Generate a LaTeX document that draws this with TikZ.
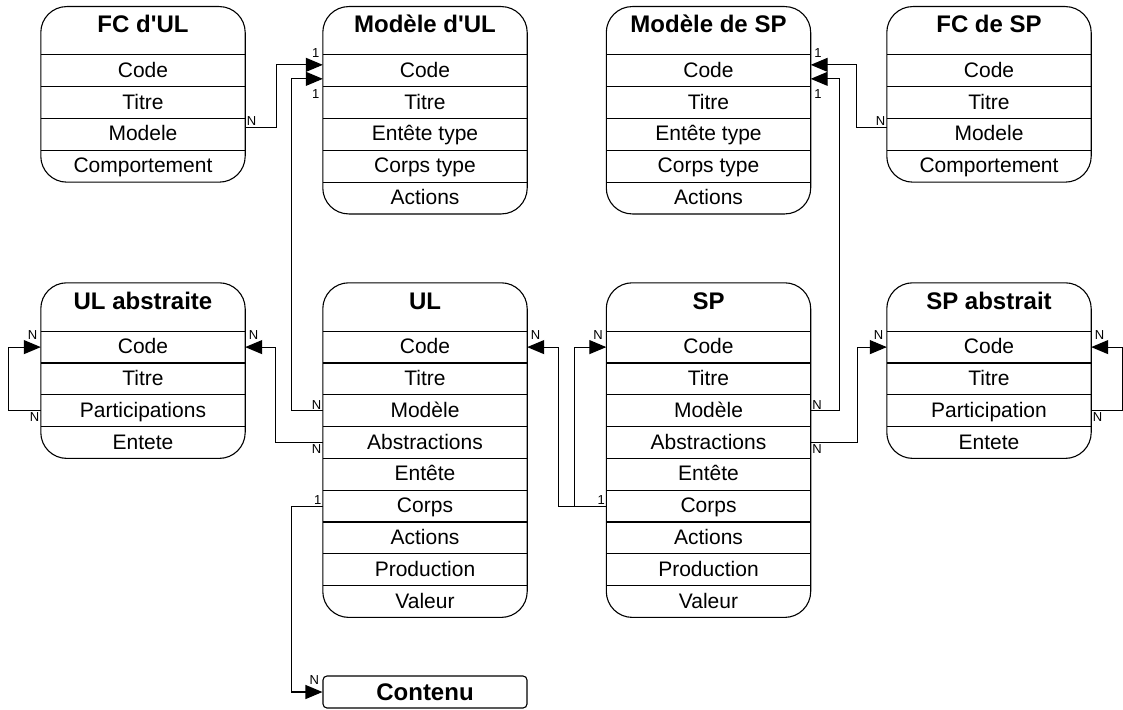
\documentclass[tikz,border=0pt]{standalone}
\usepackage{fontspec}
\setmainfont{Liberation Sans}[Ligatures=TeXOff]
\usepackage{tikz}
\usetikzlibrary{positioning}
\usetikzlibrary{arrows.meta}
\usetikzlibrary{fit}

\begin{document}
\begin{tikzpicture}[
  x=1pt, y=-1pt,
  head/.style={minimum width=204pt, minimum height=48pt, inner sep=0pt, text height=17pt, text depth=13pt, font=\fontsize{24}{28}\selectfont\bfseries},
  field/.style={minimum width=204pt, minimum height=31.4pt, inner sep=0pt, text height=15pt, text depth=2pt, font=\fontsize{21}{25}\selectfont},
  entbox/.style={draw, line width=1.1pt, rounded corners=26pt, inner sep=0pt},
  smallbox/.style={draw, line width=1.1pt, rounded corners=4pt, minimum width=204pt, minimum height=32pt, inner sep=0pt, text height=17pt, text depth=0pt, font=\fontsize{24}{28}\selectfont\bfseries},
  rowline/.style={line width=1.1pt},
  arrow/.style={-{Triangle[length=17pt, width=14pt]}, line width=1.1pt},
  lbl/.style={inner sep=1pt, font=\fontsize{13}{15}\selectfont}
]
\useasboundingbox (0,0) rectangle (1123,709);

% FC d'UL
\node[head] (ful) at (143,30.75) {FC d'UL};
\node[field, below=0pt of ful] (ful-code) {Code};
\node[field, below=0pt of ful-code] (ful-titre) {Titre};
\node[field, below=0pt of ful-titre] (ful-modele) {Modele};
\node[field, below=0pt of ful-modele] (ful-comp) {Comportement};
\node[entbox, fit=(ful)(ful-comp)] {};

% Modele d'UL
\node[head] (mul) at (425,30.75) {Modèle d'UL};
\node[field, below=0pt of mul] (mul-code) {Code};
\node[field, below=0pt of mul-code] (mul-titre) {Titre};
\node[field, below=0pt of mul-titre] (mul-entete) {Entête type};
\node[field, below=0pt of mul-entete] (mul-corps) {Corps type};
\node[field, below=0pt of mul-corps] (mul-actions) {Actions};
\node[entbox, fit=(mul)(mul-actions)] {};

% Modele de SP
\node[head] (msp) at (708.5,30.75) {Modèle de SP};
\node[field, below=0pt of msp] (msp-code) {Code};
\node[field, below=0pt of msp-code] (msp-titre) {Titre};
\node[field, below=0pt of msp-titre] (msp-entete) {Entête type};
\node[field, below=0pt of msp-entete] (msp-corps) {Corps type};
\node[field, below=0pt of msp-corps] (msp-actions) {Actions};
\node[entbox, fit=(msp)(msp-actions)] {};

% FC de SP
\node[head] (fsp) at (989,30.75) {FC de SP};
\node[field, below=0pt of fsp] (fsp-code) {Code};
\node[field, below=0pt of fsp-code] (fsp-titre) {Titre};
\node[field, below=0pt of fsp-titre] (fsp-modele) {Modele};
\node[field, below=0pt of fsp-modele] (fsp-comp) {Comportement};
\node[entbox, fit=(fsp)(fsp-comp)] {};

% UL abstraite
\node[head] (ula) at (143,307) {UL abstraite};
\node[field, below=0pt of ula] (ula-code) {Code};
\node[field, below=0pt of ula-code] (ula-titre) {Titre};
\node[field, below=0pt of ula-titre] (ula-part) {Participations};
\node[field, below=0pt of ula-part] (ula-entete) {Entete};
\node[entbox, fit=(ula)(ula-entete)] {};

% UL
\node[head] (ul) at (425,307) {UL};
\node[field, below=0pt of ul] (ul-code) {Code};
\node[field, below=0pt of ul-code] (ul-titre) {Titre};
\node[field, below=0pt of ul-titre] (ul-modele) {Modèle};
\node[field, below=0pt of ul-modele] (ul-abs) {Abstractions};
\node[field, below=0pt of ul-abs] (ul-entete) {Entête};
\node[field, below=0pt of ul-entete] (ul-corps) {Corps};
\node[field, below=0pt of ul-corps] (ul-actions) {Actions};
\node[field, below=0pt of ul-actions] (ul-prod) {Production};
\node[field, below=0pt of ul-prod] (ul-valeur) {Valeur};
\node[entbox, fit=(ul)(ul-valeur)] {};

% SP
\node[head] (sp) at (708.5,307) {SP};
\node[field, below=0pt of sp] (sp-code) {Code};
\node[field, below=0pt of sp-code] (sp-titre) {Titre};
\node[field, below=0pt of sp-titre] (sp-modele) {Modèle};
\node[field, below=0pt of sp-modele] (sp-abs) {Abstractions};
\node[field, below=0pt of sp-abs] (sp-entete) {Entête};
\node[field, below=0pt of sp-entete] (sp-corps) {Corps};
\node[field, below=0pt of sp-corps] (sp-actions) {Actions};
\node[field, below=0pt of sp-actions] (sp-prod) {Production};
\node[field, below=0pt of sp-prod] (sp-valeur) {Valeur};
\node[entbox, fit=(sp)(sp-valeur)] {};

% SP abstrait
\node[head] (spa) at (989,307) {SP abstrait};
\node[field, below=0pt of spa] (spa-code) {Code};
\node[field, below=0pt of spa-code] (spa-titre) {Titre};
\node[field, below=0pt of spa-titre] (spa-part) {Participation};
\node[field, below=0pt of spa-part] (spa-entete) {Entete};
\node[entbox, fit=(spa)(spa-entete)] {};

% Contenu
\node[smallbox] (contenu) at (425,692) {Contenu};

% Row lines
\foreach \f in {ful-code,ful-titre,ful-modele,ful-comp,
  mul-code,mul-titre,mul-entete,mul-corps,mul-actions,
  msp-code,msp-titre,msp-entete,msp-corps,msp-actions,
  fsp-code,fsp-titre,fsp-modele,fsp-comp,
  ula-code,ula-titre,ula-part,ula-entete,
  ul-code,ul-titre,ul-modele,ul-abs,ul-entete,ul-corps,ul-actions,ul-prod,ul-valeur,
  sp-code,sp-titre,sp-modele,sp-abs,sp-entete,sp-corps,sp-actions,sp-prod,sp-valeur,
  spa-code,spa-titre,spa-part,spa-entete}
  \draw[rowline] (\f.north west) -- (\f.north east);

% Edges
\draw[arrow] ([yshift=7pt]ful-modele.east) node[lbl, above right]{N} -- ++(31,0) |- ([yshift=6pt]mul-code.west) node[lbl, above left=6pt and 2pt]{1};
\draw[arrow] (ul-modele.west) node[lbl, above left]{N} -- ++(-31,0) |- ([yshift=-8pt]mul-code.west) node[lbl, below left=9pt and 2pt]{1};
\draw[arrow] (ul-abs.west) node[lbl, below left]{N} -- ++(-47,0) |- (ula-code.east) node[lbl, above right=6pt and 2pt]{N};
\draw[arrow] (ula-part.west) node[lbl, below left]{N} -- ++(-32,0) |- (ula-code.west) node[lbl, above left=6pt and 2pt]{N};
\draw[arrow] (ul-corps.west) node[lbl, above left]{1} -- ++(-31,0) |- (contenu.west) node[lbl, above left=6pt and 2pt]{N};

\draw[arrow] (sp-corps.west) node[lbl, above left]{1} -- ++(-48,0) |- (ul-code.east) node[lbl, above right=6pt and 2pt]{N};
\draw[arrow] (sp-corps.west) -- ++(-32,0) |- (sp-code.west) node[lbl, above left=6pt and 2pt]{N};
\draw[arrow] (sp-modele.east) node[lbl, above right]{N} -- ++(29,0) |- ([yshift=-8pt]msp-code.east) node[lbl, below right=9pt and 2pt]{1};
\draw[arrow] (sp-abs.east) node[lbl, below right]{N} -- ++(47,0) |- (spa-code.west) node[lbl, above left=6pt and 2pt]{N};
\draw[arrow] ([yshift=7pt]fsp-modele.west) node[lbl, above left]{N} -- ++(-30,0) |- ([yshift=6pt]msp-code.east) node[lbl, above right=6pt and 2pt]{1};
\draw[arrow] (spa-part.east) node[lbl, below right]{N} -- ++(31,0) |- (spa-code.east) node[lbl, above right=6pt and 2pt]{N};

\end{tikzpicture}
\end{document}
